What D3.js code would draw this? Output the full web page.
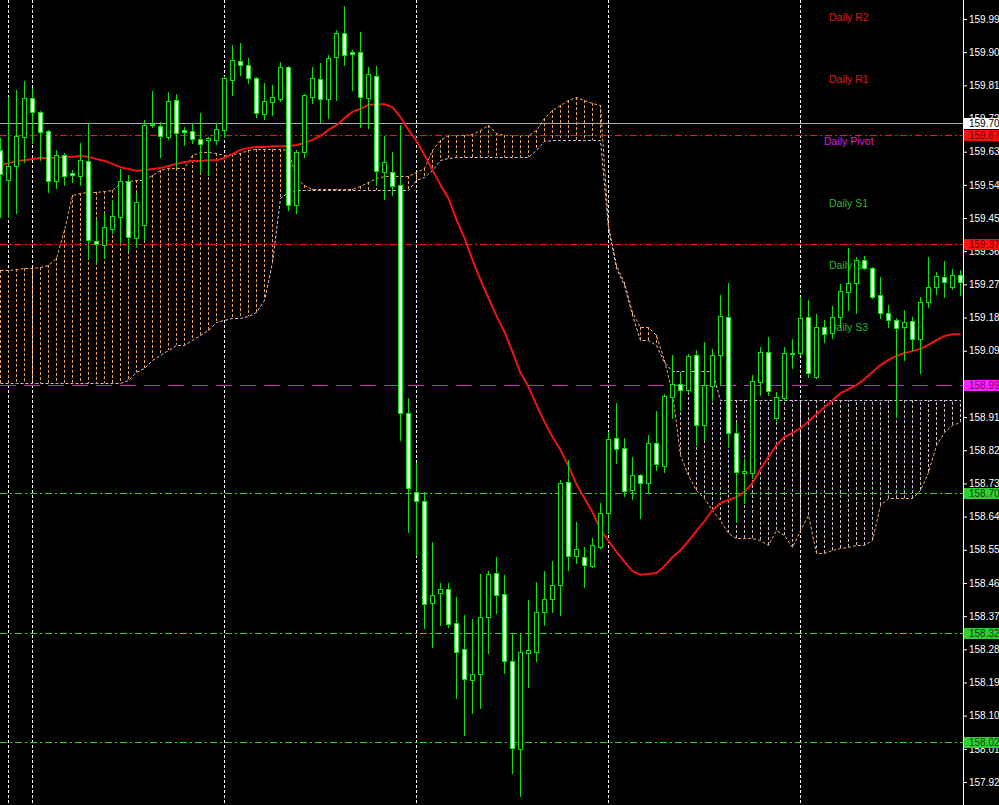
<!DOCTYPE html>
<html><head><meta charset="utf-8">
<script src="https://cdn.jsdelivr.net/npm/d3@7"></script>
<style>html,body{margin:0;padding:0;background:#000;overflow:hidden}</style>
</head><body>
<svg id="chart" width="999" height="805"></svg>
<script>
const openValues = [159.634,159.553,159.591,159.669,159.775,159.738,159.685,159.550,159.620,159.572,
159.564,159.604,159.387,159.376,159.420,159.452,159.550,159.395,159.430,159.702,
159.700,159.669,159.770,159.689,159.685,159.664,159.661,159.661,159.689,159.824,
159.875,159.864,159.829,159.732,159.765,159.773,159.859,159.485,159.629,159.778,
159.827,159.773,159.886,159.952,159.901,159.901,159.775,159.835,159.575,159.575,
159.539,158.921,158.707,158.682,158.405,158.432,158.444,158.351,158.281,158.196,
158.212,158.367,158.487,158.429,158.248,158.009,158.270,158.273,158.381,158.416,
158.454,158.734,158.533,158.530,158.506,158.557,158.650,158.853,158.825,158.712,
158.752,158.731,158.839,158.777,158.964,158.999,158.983,159.078,158.888,158.994,
159.078,159.181,158.867,158.758,158.758,159.005,159.087,158.907,158.961,159.081,
159.084,159.181,159.018,159.154,159.138,159.181,159.249,159.274,159.336,159.314,
159.240,159.192,159.173,159.154,159.170,159.122,159.222,159.262,159.290,159.262,
159.295];
const highValues = [159.666,159.778,159.797,159.821,159.802,159.740,159.689,159.634,159.626,159.580,
159.653,159.708,159.444,159.463,159.499,159.583,159.566,159.518,159.716,159.794,
159.711,159.792,159.786,159.697,159.708,159.735,159.669,159.708,159.835,159.919,
159.925,159.883,159.832,159.816,159.810,159.873,159.862,159.634,159.786,159.859,
159.870,159.891,159.960,160.025,159.906,159.955,159.859,159.862,159.672,159.629,
159.702,158.961,158.785,158.707,158.571,158.460,158.460,158.421,158.372,158.362,
158.484,158.492,158.530,158.481,158.324,158.324,158.413,158.463,158.492,158.519,
158.739,158.793,158.625,158.557,158.581,158.677,158.870,158.948,158.853,158.801,
158.755,158.861,158.926,158.972,159.078,159.032,159.081,159.092,159.114,159.095,
159.240,159.274,158.894,158.796,159.023,159.100,159.127,158.978,159.100,159.122,
159.235,159.227,159.189,159.173,159.211,159.271,159.368,159.344,159.347,159.317,
159.290,159.213,159.178,159.200,159.181,159.235,159.344,159.304,159.333,159.312,
159.309];
const lowValues = [159.452,159.452,159.463,159.602,159.653,159.607,159.521,159.531,159.539,159.548,
159.539,159.341,159.331,159.341,159.409,159.382,159.363,159.371,159.390,159.697,
159.615,159.664,159.585,159.647,159.653,159.575,159.566,159.650,159.669,159.783,
159.837,159.816,159.724,159.719,159.729,159.767,159.471,159.463,159.615,159.762,
159.711,159.721,159.770,159.864,159.797,159.697,159.694,159.539,159.502,159.512,
158.847,158.598,158.535,158.337,158.286,158.345,158.340,158.147,158.047,158.107,
158.120,158.270,158.378,158.215,157.944,157.882,158.177,158.248,158.345,158.381,
158.372,158.495,158.514,158.449,158.503,158.554,158.595,158.785,158.696,158.688,
158.635,158.704,158.766,158.761,158.907,158.929,158.978,158.833,158.847,158.956,
158.996,158.828,158.625,158.677,158.744,158.969,158.969,158.902,158.956,159.042,
159.078,159.018,159.015,159.114,159.124,159.154,159.200,159.192,159.312,159.232,
159.178,159.154,158.910,159.065,159.092,159.029,159.208,159.243,159.235,159.257,
159.240];
const closeValues = [159.569,159.591,159.672,159.775,159.738,159.683,159.550,159.620,159.564,159.566,
159.607,159.390,159.379,159.425,159.455,159.550,159.398,159.494,159.702,159.705,
159.672,159.767,159.680,159.683,159.664,159.650,159.666,159.692,159.829,159.878,
159.864,159.829,159.735,159.767,159.778,159.859,159.485,159.629,159.783,159.829,
159.773,159.883,159.952,159.891,159.894,159.778,159.840,159.577,159.602,159.537,
158.921,158.717,158.682,158.402,158.426,158.444,158.348,158.273,158.199,158.212,
158.367,158.484,158.426,158.248,158.011,158.273,158.278,158.381,158.416,158.454,
158.731,158.533,158.552,158.508,158.562,158.650,158.850,158.823,158.709,158.752,
158.731,158.839,158.782,158.967,158.999,158.983,159.076,158.888,158.996,159.078,
159.184,158.867,158.761,158.763,159.007,159.087,158.980,158.964,159.084,159.084,
159.178,159.029,159.154,159.135,159.181,159.251,159.274,159.336,159.314,159.235,
159.192,159.173,159.151,159.168,159.122,159.222,159.262,159.293,159.277,159.295,
159.277];
const maValues = [159.594,159.599,159.605,159.607,159.610,159.613,159.613,159.613,159.616,159.616,
159.618,159.616,159.610,159.605,159.597,159.588,159.583,159.578,159.580,159.583,
159.586,159.591,159.597,159.602,159.605,159.605,159.607,159.607,159.613,159.624,
159.635,159.640,159.643,159.643,159.645,159.645,159.645,159.648,159.654,159.662,
159.673,159.689,159.702,159.721,159.738,159.746,159.757,159.759,159.759,159.751,
159.724,159.689,159.659,159.621,159.580,159.540,159.504,159.445,159.396,159.336,
159.282,159.233,159.184,159.141,159.087,159.030,158.992,158.943,158.897,158.856,
158.821,158.777,158.728,158.690,158.652,158.604,158.574,158.544,158.517,158.492,
158.482,158.484,158.487,158.506,158.530,158.549,158.574,158.601,158.628,158.658,
158.677,158.685,158.693,158.707,158.731,158.769,158.802,158.834,158.856,158.867,
158.880,158.899,158.918,158.937,158.956,158.975,158.986,158.997,159.013,159.032,
159.051,159.065,159.076,159.084,159.089,159.095,159.106,159.119,159.130,159.135,
159.135];
const spanAValues = [159.309,159.309,159.312,159.314,159.314,159.317,159.323,159.342,159.418,159.513,
159.518,159.521,159.521,159.523,159.526,159.545,159.550,159.553,159.553,159.567,
159.580,159.586,159.586,159.586,159.621,159.629,159.629,159.626,159.621,159.624,
159.626,159.635,159.637,159.637,159.637,159.637,159.635,159.559,159.540,159.529,
159.529,159.529,159.529,159.529,159.529,159.537,159.548,159.559,159.564,159.564,
159.564,159.564,159.575,159.586,159.635,159.662,159.675,159.675,159.675,159.678,
159.689,159.702,159.681,159.675,159.675,159.675,159.675,159.689,159.721,159.743,
159.757,159.770,159.778,159.770,159.762,159.757,159.431,159.323,159.276,159.195,
159.154,159.154,159.133,159.065,158.978,158.807,158.753,158.712,158.690,158.658,
158.631,158.596,158.582,158.582,158.582,158.577,158.563,158.604,158.590,158.558,
158.604,158.644,158.541,158.541,158.549,158.555,158.558,158.563,158.563,158.577,
158.671,158.690,158.690,158.690,158.690,158.712,158.761,158.834,158.870,158.889,
158.897];
const spanBValues = [159.002,159.002,159.002,159.002,159.002,159.002,159.002,159.002,159.002,159.002,
159.002,159.002,159.002,159.002,159.002,159.002,159.011,159.032,159.043,159.065,
159.078,159.092,159.106,159.106,159.119,159.133,159.146,159.168,159.173,159.179,
159.179,159.184,159.195,159.228,159.331,159.504,159.521,159.526,159.526,159.526,
159.526,159.526,159.526,159.526,159.526,159.526,159.526,159.526,159.526,159.526,
159.526,159.526,159.553,159.561,159.580,159.607,159.613,159.616,159.616,159.616,
159.616,159.616,159.616,159.616,159.616,159.616,159.616,159.635,159.659,159.662,
159.662,159.662,159.662,159.662,159.662,159.662,159.423,159.314,159.268,159.187,
159.119,159.119,159.106,159.059,159.035,159.035,159.035,159.035,159.035,159.035,
158.956,158.956,158.956,158.956,158.956,158.956,158.956,158.956,158.956,158.956,
158.956,158.956,158.956,158.956,158.956,158.956,158.956,158.956,158.956,158.956,
158.956,158.956,158.956,158.956,158.956,158.956,158.956,158.956,158.956,158.956,
158.956];
const tickValues = [159.990,159.900,159.810,159.720,159.630,159.540,159.450,159.360,159.270,159.180,159.090,159.000,
158.910,158.820,158.730,158.640,158.550,158.460,158.370,158.280,158.190,158.100,158.010,157.920];
const levelValues = [159.708,159.674,159.379,158.996,158.704,158.323,158.029];
const levelKinds = ["current","resist","resist","pivot","support","support","support"];
const gridCandles = [1,4,28,52,76,100];
const pivotLabels = ["Daily R2","Daily R1","Daily Pivot","Daily S1","Daily S2","Daily S3"];
const pivotKinds = ["resist","resist","pivot","support","support","support"];

const W = 999, H = 805, axisX = 963;
const FONT = "'Liberation Sans', Arial, sans-serif";
const styles = {
  current: {line:"#a8a8a8", dash:null, box:"#ffffff", text:"#000000"},
  resist:  {line:"#ff1010", dash:"7,3,2,3", box:"#ff1010", text:"#700000"},
  pivot:   {line:"#d020d0", dash:"16,8", box:"#ff20ff", text:"#700070"},
  support: {line:"#32cd32", dash:"7,3,2,3", box:"#32cd32", text:"#0a4a0a"}
};
const labelColors = {resist:"#e01818", pivot:"#d81cd8", support:"#30b830"};

const svg = d3.select("#chart");
svg.append("rect").attr("width", W).attr("height", H).attr("fill", "#000");
const n = openValues.length;
const idx = d3.range(n);
const x = d3.scaleLinear().domain([0, 120]).range([0, 960]);
const y = d3.scaleLinear().domain([159.990, 157.920]).range([19, 782]);
const px = v => Math.round(v) + 0.5;

// vertical dotted grid
svg.append("g").selectAll("line").data(gridCandles).join("line")
  .attr("x1", d => px(x(d))).attr("x2", d => px(x(d)))
  .attr("y1", 0).attr("y2", H)
  .attr("stroke", "#ffffff").attr("stroke-dasharray", "3,2");

// Ichimoku cloud hatch
const cloud = svg.append("g");
cloud.selectAll("line.h").data(idx).join("line").attr("class", "h")
  .attr("x1", i => px(x(i))).attr("x2", i => px(x(i)))
  .attr("y1", i => y(spanAValues[i])).attr("y2", i => y(spanBValues[i]))
  .attr("stroke", i => spanAValues[i] >= spanBValues[i] ? "#f4a460" : "#d8bfd8")
  .attr("stroke-dasharray", "3,2");
const lineA = d3.line().x(i => px(x(i))).y(i => px(y(spanAValues[i])));
const lineB = d3.line().x(i => px(x(i))).y(i => px(y(spanBValues[i])));
cloud.append("path").attr("d", lineB(idx)).attr("fill", "none")
  .attr("stroke", "#d8bfd8").attr("stroke-dasharray", "3,2");
cloud.append("path").attr("d", lineA(idx)).attr("fill", "none")
  .attr("stroke", "#f4a460").attr("stroke-dasharray", "3,2");

// horizontal level lines
svg.append("g").selectAll("line").data(levelValues).join("line")
  .attr("x1", 0).attr("x2", axisX)
  .attr("y1", d => px(y(d))).attr("y2", d => px(y(d)))
  .attr("stroke", (d, i) => styles[levelKinds[i]].line)
  .attr("stroke-dasharray", (d, i) => styles[levelKinds[i]].dash);

// pivot text labels
const labelPos = [[829, 21], [829, 83], [824, 145], [829, 207], [829, 269], [829, 331]];
svg.append("g").selectAll("text").data(pivotLabels).join("text")
  .attr("x", (d, i) => labelPos[i][0]).attr("y", (d, i) => labelPos[i][1])
  .attr("fill", (d, i) => labelColors[pivotKinds[i]])
  .attr("font-family", FONT).attr("font-size", 10.5)
  .text(d => d);

// moving average
const ma = d3.line().x(i => x(i) + 0.5).y(i => y(maValues[i]));
svg.append("path").attr("d", ma(idx)).attr("fill", "none")
  .attr("stroke", "#f01414").attr("stroke-width", 2).attr("stroke-linejoin", "round");

// candles
const green = "#10e010";
const cg = svg.append("g");
cg.selectAll("line.wick").data(idx).join("line").attr("class", "wick")
  .attr("x1", i => px(x(i))).attr("x2", i => px(x(i)))
  .attr("y1", i => Math.round(y(highValues[i]))).attr("y2", i => Math.round(y(lowValues[i])) + 1)
  .attr("stroke", green);
idx.forEach(i => {
  const o = openValues[i], c = closeValues[i];
  const top = Math.round(y(Math.max(o, c))), bot = Math.round(y(Math.min(o, c)));
  const h = bot - top;
  const cx = px(x(i));
  if (h < 1) {
    cg.append("line").attr("x1", cx - 2.5).attr("x2", cx + 2.5)
      .attr("y1", top + 0.5).attr("y2", top + 0.5).attr("stroke", green);
  } else {
    cg.append("rect").attr("x", cx - 2).attr("y", top + 0.5)
      .attr("width", 4).attr("height", h)
      .attr("fill", c < o ? "#f2fff2" : "#000000")
      .attr("stroke", green);
  }
});

// right price axis
const axis = d3.axisRight(y).tickValues(tickValues).tickFormat(d3.format(".3f"))
  .tickSize(4).tickSizeOuter(0).tickPadding(2);
svg.append("rect").attr("x", axisX + 1).attr("y", 0).attr("width", W - axisX).attr("height", H).attr("fill", "#000");
const ag = svg.append("g").attr("transform", `translate(${axisX},0)`).call(axis);
ag.select(".domain").remove();
ag.selectAll(".tick line").attr("stroke", "#ffffff");
ag.selectAll(".tick text").attr("fill", "#ffffff").attr("font-family", FONT).attr("font-size", 10);
svg.append("line").attr("x1", axisX + 0.5).attr("x2", axisX + 0.5).attr("y1", 0).attr("y2", H).attr("stroke", "#ffffff");

// level price boxes
const boxes = svg.append("g");
levelValues.forEach((v, i) => {
  const st = styles[levelKinds[i]];
  const yy = Math.round(y(v));
  boxes.append("rect").attr("x", axisX + 1).attr("y", yy - 5).attr("width", W - axisX).attr("height", 11).attr("fill", st.box);
  boxes.append("text").attr("x", axisX + 6).attr("y", yy + 4).attr("fill", st.text)
    .attr("font-family", FONT).attr("font-size", 10).text(d3.format(".3f")(v));
});
</script>
</body></html>
